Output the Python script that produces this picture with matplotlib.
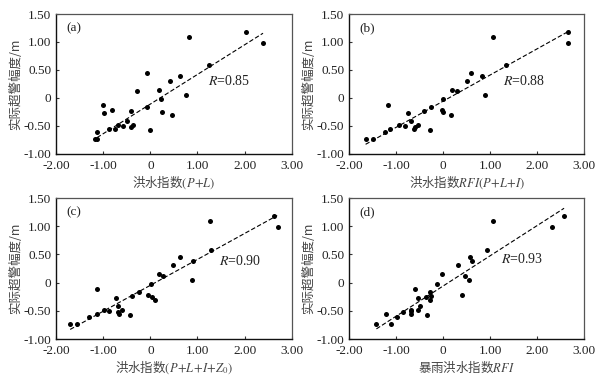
import matplotlib
matplotlib.use('Agg')
import matplotlib.pyplot as plt
from matplotlib.ticker import FuncFormatter
import numpy as np

plt.rcParams['font.family'] = ['Liberation Serif', 'Noto Sans CJK SC']
plt.rcParams['mathtext.fontset'] = 'stix'

# observed exceedance (m), shared by all four panels
observed = [1.18, 0.99, 1.09, 0.58, 0.45, 0.31, 0.39, 0.05, 0.12, 0.15,
            -0.02, -0.16, -0.26, -0.31, -0.58, -0.12, -0.27, -0.22, -0.23, -0.41,
            -0.48, -0.51, -0.52, -0.48, -0.55, -0.56, -0.61, -0.74, -0.74]

# flood indices for each panel
idx_a = [2.02, 2.39, 0.82, 1.24, -0.08, 0.42, 0.62, 0.76, -0.28, 0.18,
         0.22, -0.08, 0.25, 0.47, 0.00, -1.01, -0.98, -0.82, -0.41, -0.49,
         -0.69, -0.57, -0.41, -0.37, -0.88, -0.74, -1.13, -1.17, -1.14]
idx_b = [2.66, 2.66, 1.06, 1.34, 0.59, 0.50, 0.83, 0.89, 0.30, 0.18,
         -0.01, -0.25, -0.01, 0.16, -0.28, -1.17, -0.75, -0.02, -0.40, -0.68,
         -0.53, -0.82, -0.61, -0.93, -0.63, -1.14, -1.23, -1.65, -1.50]
idx_c = [2.62, 2.71, 1.27, 1.29, 0.63, 0.49, 0.90, 0.89, 0.27, 0.19,
         0.01, -0.24, 0.04, 0.10, -0.44, -1.14, -0.72, -0.04, -0.39, -0.69,
         -0.60, -0.87, -0.69, -0.98, -0.67, -1.14, -1.30, -1.70, -1.55]
idx_d = [2.56, 2.32, 1.06, 0.93, 0.57, 0.31, 0.61, 0.55, 0.47, -0.03,
         -0.13, -0.28, -0.37, -0.29, -0.35, -0.59, -0.53, 0.40, -0.25, -0.50,
         -0.54, -0.69, -0.86, -0.69, -0.69, -1.22, -0.99, -1.10, -1.42]

# fitted lines: slope, intercept, x range
fit_a = (0.53, -0.11, -1.13, 2.39)
fit_b = (0.468, -0.057, -1.65, 2.69)
fit_c = (0.46, -0.048, -1.70, 2.69)
fit_d = (0.536, -0.059, -1.42, 2.57)

r_labels = ['0.85', '0.88', '0.90', '0.93']
r_pos = [(1.22, 0.31), (1.28, 0.31), (1.46, 0.39), (1.22, 0.42)]
panel_tags = ['(a)', '(b)', '(c)', '(d)']
xlabels = ['洪水指数$(P\\!+\\!L)$', '洪水指数$RFI(P\\!+\\!L\\!+\\!I)$',
           '洪水指数$(P\\!+\\!L\\!+\\!I\\!+\\!Z_0)$', '暴雨洪水指数$RFI$']

fig = plt.figure(figsize=(6.03, 3.79), dpi=100)
positions = [[0.0929, 0.594, 0.391, 0.369], [0.579, 0.594, 0.390, 0.369],
             [0.0929, 0.1055, 0.391, 0.372], [0.579, 0.1055, 0.390, 0.372]]

fmt = FuncFormatter(lambda v, p: '0' if abs(v) < 1e-9 else '%.2f' % v)
cjk = {'family': 'Noto Sans CJK SC', 'size': 9, 'color': '#444444'}

for i, (xs, fit) in enumerate(zip([idx_a, idx_b, idx_c, idx_d],
                                  [fit_a, fit_b, fit_c, fit_d])):
    ax = fig.add_axes(positions[i])
    ax.plot(xs, observed, 'o', color='black', markersize=3.6, markeredgewidth=0)
    k, b, x0, x1 = fit
    lx = np.array([x0, x1])
    ax.plot(lx, k * lx + b, color='black', linestyle=(0, (4, 2)), linewidth=0.8)

    ax.set_xlim(-2, 3)
    ax.set_ylim(-1, 1.5)
    ax.set_xticks([-2, -1, 0, 1, 2, 3])
    ax.set_yticks([-1, -0.5, 0, 0.5, 1, 1.5])
    ax.xaxis.set_major_formatter(fmt)
    ax.yaxis.set_major_formatter(fmt)
    ax.tick_params(direction='in', length=2.5, width=0.8, labelsize=9.5,
                   colors='#333333')
    ax.tick_params(labelcolor='#222222')
    ax.tick_params(axis='x', pad=4.5)
    ax.tick_params(axis='y', pad=3.5)
    for side in ['left', 'bottom']:
        ax.spines[side].set_color('#111111')
        ax.spines[side].set_linewidth(1.0)
    for side in ['top', 'right']:
        ax.spines[side].set_color('#555555')
        ax.spines[side].set_linewidth(0.9)

    ax.text(0.045, 0.9, panel_tags[i], transform=ax.transAxes, fontsize=9.5,
            va='center', ha='left', color='#222222')
    ax.text(r_pos[i][0], r_pos[i][1], '$R$=' + r_labels[i], fontsize=10,
            va='center', ha='left', color='#222222')
    ax.set_ylabel('实际超警幅度/m', fontdict=cjk, labelpad=1)
    ax.set_xlabel(xlabels[i], fontdict=cjk, labelpad=1)

fig.savefig('out.png', dpi=100)
